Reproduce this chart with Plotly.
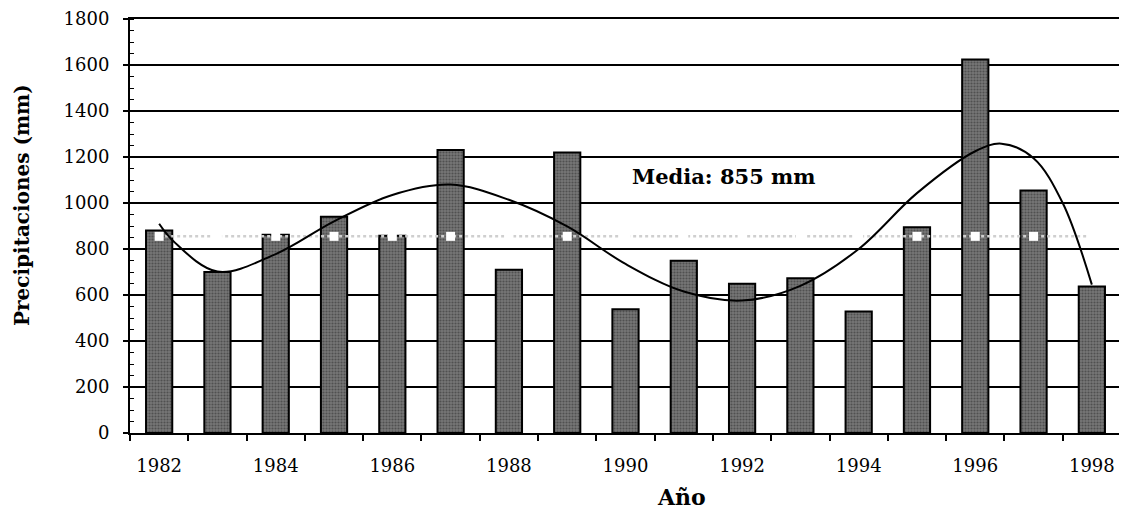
import plotly.graph_objects as go

# ---- data ----
years = list(range(1982, 1999))
precip = [880, 700, 862, 940, 858, 1230, 710, 1220, 538, 749, 649, 673, 528, 895, 1624, 1054, 637]
mean_value = 855
trend_x = [1982, 1982.25, 1983, 1984, 1985, 1986, 1987, 1988, 1989, 1990,
           1991, 1992, 1993, 1994, 1995, 1996, 1996.45, 1997, 1997.5, 1998]
trend_y = [910, 833, 702, 778, 920, 1035, 1080, 1014, 898, 735,
           615, 576, 640, 800, 1043, 1225, 1258, 1195, 1000, 645]
x_tick_labels = [str(y) for y in range(1982, 1999, 2)]
y_tick_vals = list(range(0, 1801, 200))

fig = go.Figure()

fig.add_trace(go.Bar(
    x=years, y=precip, width=0.45,
    marker=dict(color="#666666", line=dict(color="black", width=2),
                pattern=dict(shape=".", fgcolor="#2a2a2a", bgcolor="#767676",
                             size=3, solidity=0.4, fillmode="overlay")),
    showlegend=False, hoverinfo="skip",
))

fig.add_trace(go.Scatter(
    x=years, y=[mean_value] * len(years), mode="lines+markers",
    line=dict(color="#cfcfcf", width=2.5, dash="dot"),
    marker=dict(symbol="square", size=9, color="white", line=dict(width=0)),
    showlegend=False, hoverinfo="skip",
))

fig.add_trace(go.Scatter(
    x=trend_x, y=trend_y, mode="lines",
    line=dict(color="black", width=2, shape="spline", smoothing=1.0),
    showlegend=False, hoverinfo="skip",
))

tick_font = dict(family="DejaVu Serif", size=18, color="black")

fig.update_xaxes(
    range=[1981.5, 1998.5], automargin=False,
    tickmode="array", tickvals=list(range(1982, 1999, 2)), ticktext=x_tick_labels,
    ticks="", tickfont=tick_font, ticklabelstandoff=15,
    showgrid=False, showline=True, linecolor="black", linewidth=2, mirror=True,
    zeroline=False,
    minor=dict(tickmode="array", tickvals=[1981.5 + k for k in range(18)],
               ticks="outside", ticklen=6, tickwidth=1.5, tickcolor="black"),
)
fig.update_yaxes(
    range=[0, 1800], automargin=False,
    tickmode="array", tickvals=y_tick_vals,
    ticks="outside", ticklen=5, tickwidth=1.5, tickcolor="black",
    tickfont=tick_font, ticklabelstandoff=10,
    showgrid=True, gridcolor="black", gridwidth=1.5,
    showline=True, linecolor="black", linewidth=2, mirror=True,
    zeroline=False,
    minor=dict(dtick=50, tick0=0, ticks="inside", ticklen=4, tickwidth=1,
               tickcolor="black", showgrid=False),
)

# page body has an 8px margin, so the figure is drawn at (8, 8) in the window
OFF = 8
W, H = 1127 - OFF, 510 - OFF
L, R, T, B = 130 - OFF, 6, 19 - OFF, 77

def place(text, px, py, size, angle=0):
    fig.add_annotation(
        text=text, showarrow=False, textangle=angle,
        xref="paper", yref="paper", xanchor="center", yanchor="middle",
        x=(px - OFF - L) / (W - L - R),
        y=1 - (py - OFF - T) / (H - T - B),
        font=dict(family="DejaVu Serif", size=size, color="black", weight="bold"),
    )

place("Precipitaciones (mm)", 22, 205, 20, -90)
place("Año", 681, 497, 22)
place("Media: 855 mm", 724, 176, 21)

fig.update_layout(
    width=W, height=H,
    margin=dict(l=L, r=R, t=T, b=B, autoexpand=False),
    paper_bgcolor="white", plot_bgcolor="white",
    bargap=0.55,
)

fig.write_html("out.html")
